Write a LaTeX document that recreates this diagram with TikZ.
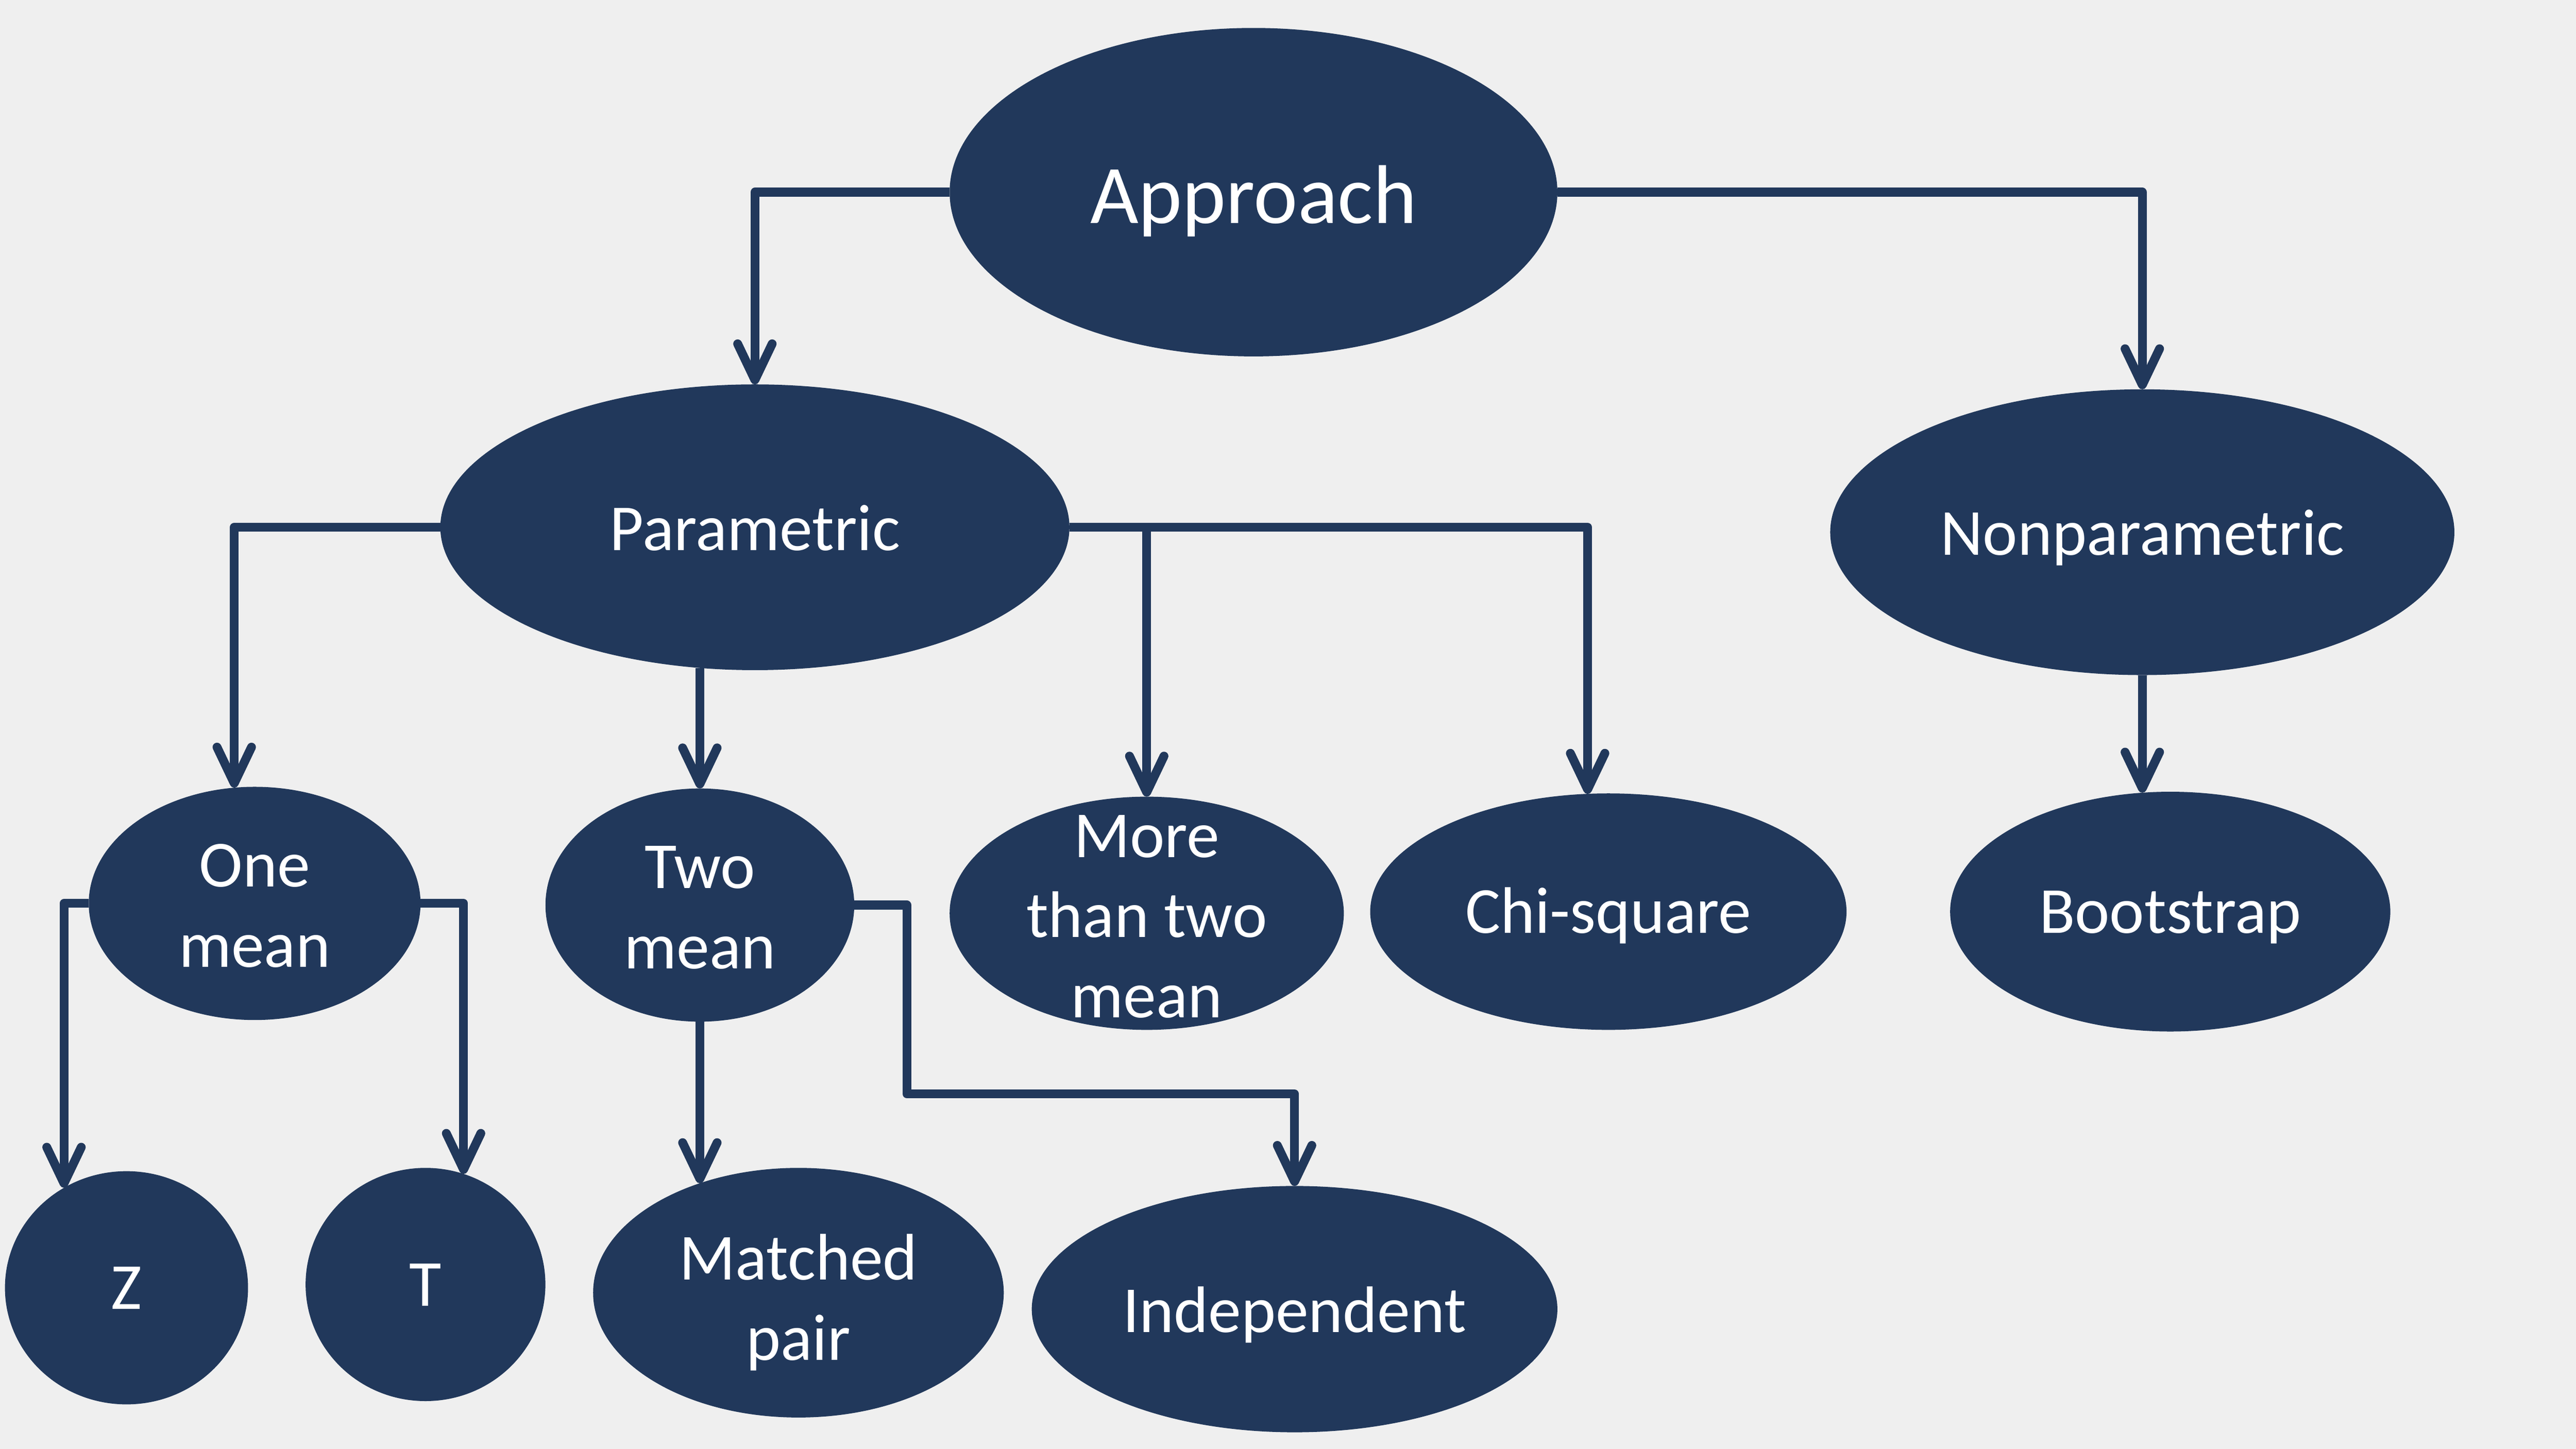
\documentclass[tikz,border=0pt]{standalone}
\usepackage{fontspec}
\setmainfont{Carlito}
\usetikzlibrary{shapes.geometric,arrows.meta,calc}
\definecolor{navy}{RGB}{33,56,91}
\definecolor{bgc}{RGB}{239,239,239}
\begin{document}
\begin{tikzpicture}[x=0.02cm,y=-0.02cm,
 ell/.style={ellipse,fill=navy,draw=none,inner sep=0pt,outer sep=0pt},
 lbl/.style={text=white,inner sep=0pt,align=center,font=\fontsize{22.8}{27.8}\selectfont},
 conn/.style={draw=navy,line width=0.108cm,line join=round,-{Straight Barb[length=0.44cm,width=0.42cm,round]}}]
\fill[bgc] (0,0) rectangle (1568,882);
\useasboundingbox (0,0) rectangle (1568,882);
% ellipses
\node[ell,minimum width=7.4cm,minimum height=4cm] (A) at (763,117) {};
\node[ell,minimum width=7.66cm,minimum height=3.48cm] (P) at (459.5,321) {};
\node[ell,minimum width=7.6cm,minimum height=3.48cm] (N) at (1304,324) {};
\node[ell,minimum width=4.04cm,minimum height=2.84cm] (O) at (155,550) {};
\node[ell,minimum width=3.76cm,minimum height=2.84cm] (T2) at (426,551) {};
\node[ell,minimum width=4.8cm,minimum height=2.84cm] (M) at (698,556) {};
\node[ell,minimum width=5.8cm,minimum height=2.88cm] (C) at (979,555) {};
\node[ell,minimum width=5.36cm,minimum height=2.92cm] (B) at (1321,555) {};
\node[ell,minimum width=2.96cm,minimum height=2.84cm] (Z) at (77,784) {};
\node[ell,minimum width=2.92cm,minimum height=2.84cm] (T) at (259,782) {};
\node[ell,minimum width=5.0cm,minimum height=3.04cm] (MP) at (486,787) {};
\node[ell,minimum width=6.4cm,minimum height=3.0cm] (I) at (788,797) {};
% texts
\node[lbl,anchor=base,font=\fontsize{28.9}{35}\selectfont] (tA) at (763,136) {Approach};
\node[lbl,anchor=base] (tP) at (459.5,335) {Parametric};
\node[lbl,anchor=base] (tN) at (1304,338) {Nonparametric};
\node[lbl] (tO) at (155,551.5) {One\\mean};
\node[lbl] (tT2) at (426,552.5) {Two\\mean};
\node[lbl] (tM) at (698,558) {More\\than two\\mean};
\node[lbl,anchor=base] (tC) at (979,568) {Chi-square};
\node[lbl,anchor=base] (tB) at (1321,568) {Bootstrap};
\node[lbl,anchor=base] (tZ) at (77,797) {Z};
\node[lbl,anchor=base] (tT) at (259,795) {T};
\node[lbl] (tMP) at (486,793) {Matched\\pair};
\node[lbl,anchor=base] (tI) at (788,811) {Independent};
% connectors
\draw[conn] (A.west) -| (P.north);
\draw[conn] (A.east) -| (N.north);
\draw[conn] (P.west) -| (O.100.5);
\draw[conn] (P.east) -| (C.100.3);
\draw[conn] (M.north |- P.east) -- (M.north);
\draw[conn] (T2.north |- P.-111.4) -- (T2.north);
\draw[conn] (N.south) -- (N.south |- B.103.2);
\draw[conn] (O.west) -| (Z.122.9);
\draw[conn] (O.east) -| (T.71.2);
\draw[conn] (T2.south) -- (T2.south |- MP.132);
\draw[conn] (T2.east) -- ++(32,0) |- ($(I.north)+(0,-56)$) -- (I.north);
\end{tikzpicture}
\end{document}
